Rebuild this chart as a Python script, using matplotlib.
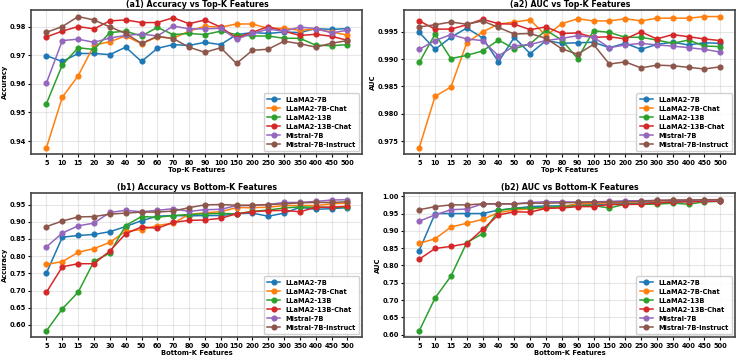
import numpy as np
import matplotlib
matplotlib.use('Agg')
import matplotlib.pyplot as plt

k_labels = ['5', '10', '15', '20', '30', '40', '50', '60', '70', '80',
            '90', '100', '150', '200', '250', '300', '350', '400', '450', '500']
models = ['LLaMA2-7B', 'LLaMA2-7B-Chat', 'LLaMA2-13B', 'LLaMA2-13B-Chat',
          'Mistral-7B', 'Mistral-7B-Instruct']

# (a1) accuracy vs top-k
acc_top_llama7b = [0.9698, 0.9678, 0.9706, 0.9706, 0.9702, 0.9728, 0.9678, 0.9724, 0.9737, 0.9734,
                   0.9745, 0.9737, 0.9772, 0.9779, 0.9776, 0.9781, 0.9779, 0.9793, 0.9790, 0.9793]
acc_top_llama7bchat = [0.9377, 0.9553, 0.9628, 0.9735, 0.9747, 0.9767, 0.9740, 0.9764, 0.9759, 0.9784,
                       0.9801, 0.9798, 0.9809, 0.9809, 0.9794, 0.9794, 0.9787, 0.9791, 0.9781, 0.9770]
acc_top_llama13b = [0.9531, 0.9666, 0.9726, 0.9720, 0.9779, 0.9784, 0.9767, 0.9797, 0.9772, 0.9776,
                    0.9772, 0.9784, 0.9772, 0.9767, 0.9767, 0.9759, 0.9759, 0.9735, 0.9733, 0.9737]
acc_top_llama13bchat = [0.9764, 0.9784, 0.9800, 0.9792, 0.9820, 0.9823, 0.9814, 0.9814, 0.9831, 0.9810,
                        0.9823, 0.9798, 0.9760, 0.9780, 0.9800, 0.9784, 0.9769, 0.9773, 0.9766, 0.9752]
acc_top_mistral = [0.9603, 0.9751, 0.9756, 0.9745, 0.9760, 0.9769, 0.9774, 0.9767, 0.9802, 0.9792,
                   0.9792, 0.9794, 0.9756, 0.9776, 0.9791, 0.9784, 0.9798, 0.9793, 0.9778, 0.9787]
acc_top_mistralinst = [0.9780, 0.9800, 0.9835, 0.9823, 0.9799, 0.9776, 0.9741, 0.9766, 0.9758, 0.9728,
                       0.9710, 0.9726, 0.9671, 0.9717, 0.9721, 0.9749, 0.9740, 0.9728, 0.9742, 0.9751]

# (a2) auc vs top-k
auc_top_llama7b = [0.9949, 0.9918, 0.9940, 0.9957, 0.9939, 0.9895, 0.9940, 0.9910, 0.9934, 0.9929,
                   0.9930, 0.9931, 0.9921, 0.9929, 0.9918, 0.9927, 0.9931, 0.9926, 0.9930, 0.9929]
auc_top_llama7bchat = [0.9738, 0.9832, 0.9849, 0.9930, 0.9950, 0.9964, 0.9968, 0.9972, 0.9943, 0.9965,
                       0.9974, 0.9970, 0.9970, 0.9974, 0.9970, 0.9975, 0.9975, 0.9975, 0.9978, 0.9978]
auc_top_llama13b = [0.9894, 0.9946, 0.9901, 0.9907, 0.9915, 0.9935, 0.9919, 0.9928, 0.9953, 0.9935,
                    0.9901, 0.9952, 0.9949, 0.9940, 0.9940, 0.9935, 0.9929, 0.9935, 0.9924, 0.9923]
auc_top_llama13bchat = [0.9970, 0.9955, 0.9955, 0.9963, 0.9973, 0.9965, 0.9964, 0.9954, 0.9959, 0.9947,
                        0.9948, 0.9940, 0.9941, 0.9937, 0.9950, 0.9937, 0.9945, 0.9941, 0.9937, 0.9934]
auc_top_mistral = [0.9918, 0.9934, 0.9945, 0.9937, 0.9934, 0.9906, 0.9924, 0.9927, 0.9934, 0.9938,
                   0.9943, 0.9940, 0.9921, 0.9926, 0.9929, 0.9926, 0.9924, 0.9921, 0.9918, 0.9913]
auc_top_mistralinst = [0.9959, 0.9963, 0.9968, 0.9964, 0.9970, 0.9958, 0.9946, 0.9947, 0.9938, 0.9919,
                       0.9909, 0.9927, 0.9891, 0.9895, 0.9884, 0.9889, 0.9888, 0.9885, 0.9882, 0.9886]

# (b1) accuracy vs bottom-k
acc_bot_llama7b = [0.751, 0.855, 0.860, 0.863, 0.871, 0.886, 0.903, 0.916, 0.918, 0.917,
                   0.918, 0.918, 0.923, 0.925, 0.916, 0.925, 0.942, 0.936, 0.938, 0.941]
acc_bot_llama7bchat = [0.776, 0.784, 0.811, 0.822, 0.840, 0.872, 0.877, 0.889, 0.896, 0.921,
                       0.926, 0.929, 0.941, 0.941, 0.942, 0.947, 0.947, 0.947, 0.952, 0.954]
acc_bot_llama13b = [0.583, 0.647, 0.695, 0.785, 0.809, 0.889, 0.915, 0.913, 0.918, 0.921,
                    0.923, 0.924, 0.923, 0.930, 0.934, 0.940, 0.943, 0.942, 0.942, 0.942]
acc_bot_llama13bchat = [0.695, 0.769, 0.778, 0.778, 0.815, 0.865, 0.885, 0.881, 0.898, 0.904,
                        0.905, 0.910, 0.923, 0.929, 0.932, 0.933, 0.929, 0.942, 0.942, 0.945]
acc_bot_mistral = [0.827, 0.867, 0.888, 0.896, 0.927, 0.933, 0.929, 0.933, 0.938, 0.930,
                   0.935, 0.936, 0.947, 0.947, 0.950, 0.956, 0.956, 0.959, 0.963, 0.964]
acc_bot_mistralinst = [0.886, 0.902, 0.914, 0.915, 0.922, 0.925, 0.928, 0.928, 0.931, 0.941,
                       0.949, 0.950, 0.948, 0.948, 0.950, 0.952, 0.955, 0.956, 0.956, 0.958]

# (b2) auc vs bottom-k
auc_bot_llama7b = [0.843, 0.950, 0.950, 0.950, 0.950, 0.960, 0.965, 0.970, 0.972, 0.972,
                   0.975, 0.976, 0.978, 0.978, 0.980, 0.982, 0.984, 0.985, 0.986, 0.987]
auc_bot_llama7bchat = [0.864, 0.877, 0.911, 0.922, 0.933, 0.953, 0.960, 0.964, 0.966, 0.970,
                       0.978, 0.979, 0.981, 0.983, 0.984, 0.986, 0.988, 0.988, 0.988, 0.988]
auc_bot_llama13b = [0.611, 0.706, 0.769, 0.866, 0.892, 0.959, 0.965, 0.966, 0.968, 0.970,
                    0.972, 0.973, 0.966, 0.977, 0.977, 0.977, 0.980, 0.977, 0.984, 0.985]
auc_bot_llama13bchat = [0.818, 0.849, 0.855, 0.863, 0.904, 0.946, 0.955, 0.954, 0.965, 0.966,
                        0.970, 0.970, 0.976, 0.976, 0.977, 0.981, 0.983, 0.984, 0.985, 0.986]
auc_bot_mistral = [0.928, 0.946, 0.961, 0.963, 0.978, 0.978, 0.978, 0.982, 0.984, 0.984,
                   0.983, 0.984, 0.985, 0.987, 0.987, 0.988, 0.988, 0.988, 0.989, 0.989]
auc_bot_mistralinst = [0.961, 0.970, 0.975, 0.975, 0.978, 0.978, 0.978, 0.980, 0.980, 0.981,
                       0.982, 0.983, 0.983, 0.984, 0.985, 0.988, 0.989, 0.989, 0.990, 0.990]

panels = [
    ('(a1) Accuracy vs Top-K Features', 'Top-K Features', 'Accuracy',
     [acc_top_llama7b, acc_top_llama7bchat, acc_top_llama13b, acc_top_llama13bchat,
      acc_top_mistral, acc_top_mistralinst]),
    ('(a2) AUC vs Top-K Features', 'Top-K Features', 'AUC',
     [auc_top_llama7b, auc_top_llama7bchat, auc_top_llama13b, auc_top_llama13bchat,
      auc_top_mistral, auc_top_mistralinst]),
    ('(b1) Accuracy vs Bottom-K Features', 'Bottom-K Features', 'Accuracy',
     [acc_bot_llama7b, acc_bot_llama7bchat, acc_bot_llama13b, acc_bot_llama13bchat,
      acc_bot_mistral, acc_bot_mistralinst]),
    ('(b2) AUC vs Bottom-K Features', 'Bottom-K Features', 'AUC',
     [auc_bot_llama7b, auc_bot_llama7bchat, auc_bot_llama13b, auc_bot_llama13bchat,
      auc_bot_mistral, auc_bot_mistralinst]),
]

plt.rcParams['font.weight'] = 'bold'
plt.rcParams['axes.labelweight'] = 'bold'
plt.rcParams['axes.titleweight'] = 'bold'

fig, axes = plt.subplots(2, 2, figsize=(7.48, 3.57), dpi=100)
fig.subplots_adjust(left=0.042, right=0.983, top=0.972, bottom=0.055, wspace=0.126, hspace=0.27)

x = np.arange(len(k_labels))
for ax, (title, xlab, ylab, series) in zip(axes.flat, panels):
    for name, vals in zip(models, series):
        ax.plot(x, vals, marker='o', markersize=3.4, linewidth=1.1, label=name)
    ax.set_xticks(x)
    ax.set_xticklabels(k_labels)
    ax.tick_params(labelsize=4.8, length=2.5, pad=1.5)
    ax.set_title(title, fontsize=5.7, pad=2)
    ax.set_xlabel(xlab, fontsize=4.9, labelpad=1)
    ax.set_ylabel(ylab, fontsize=4.9, labelpad=1)
    ax.grid(True, alpha=0.3)
    for s in ax.spines.values():
        s.set_linewidth(1.2)
        s.set_color('#444444')
    ax.legend(loc='lower right', fontsize=4.8, handlelength=2.0, labelspacing=0.45,
              borderpad=0.5, framealpha=0.9)

fig.savefig('out.png', dpi=100)
